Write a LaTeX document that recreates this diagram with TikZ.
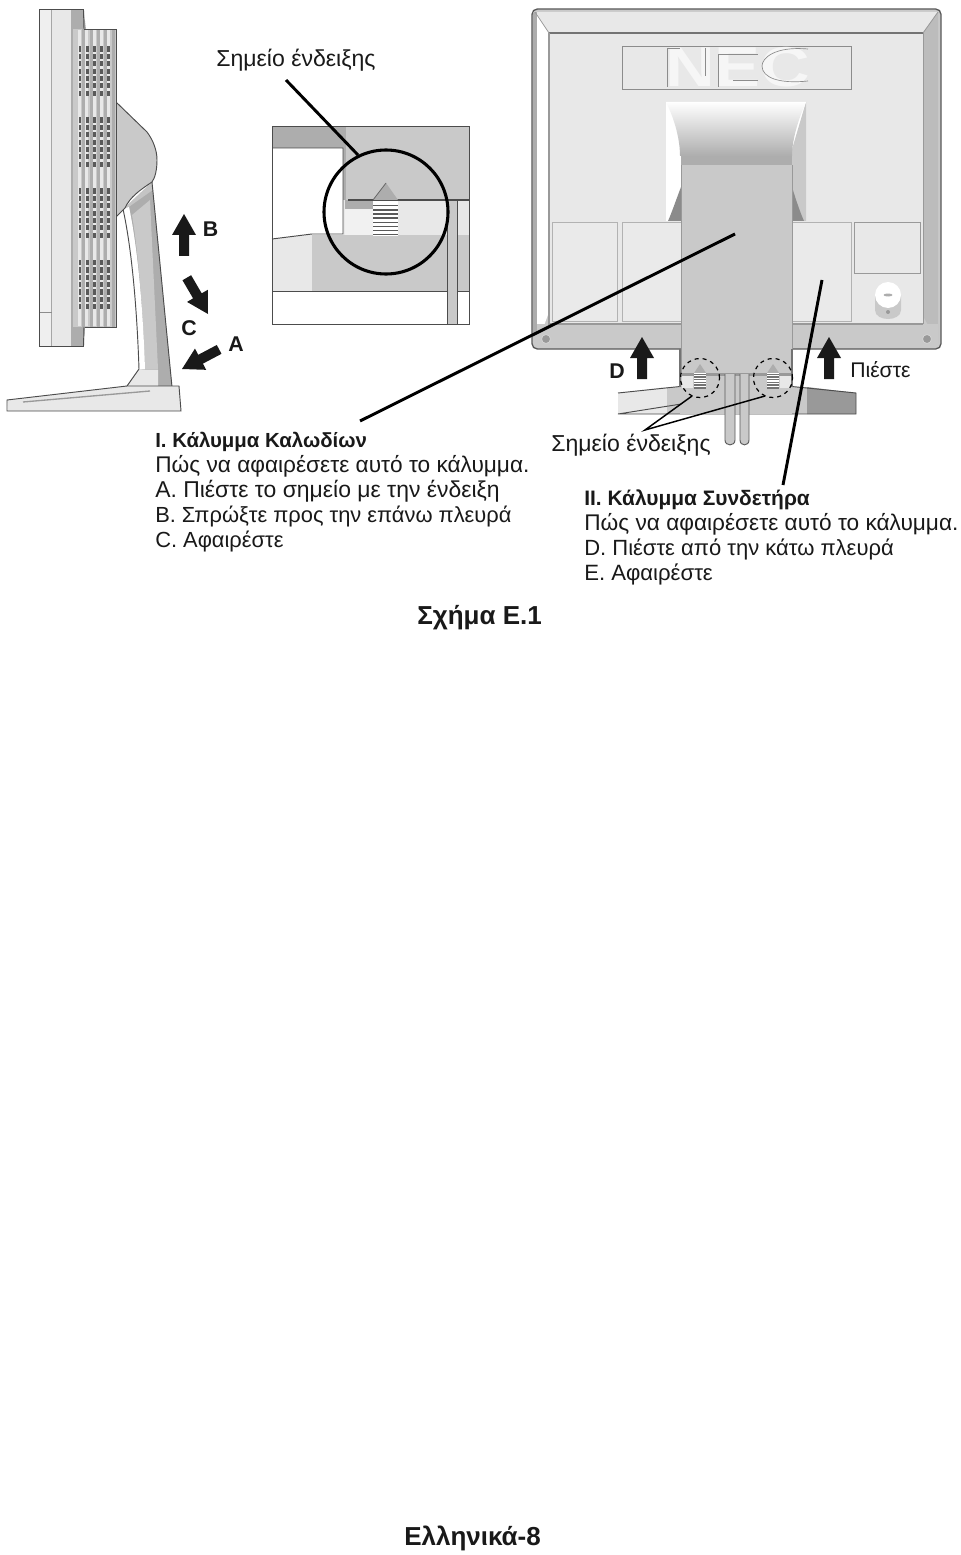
\documentclass[tikz,border=0pt]{standalone}
\usepackage{fontspec}
\setmainfont{Liberation Sans}
\tikzset{
  txt/.style={anchor=west,inner sep=0pt,font=\fontsize{17}{18}\selectfont,text=black!90},
  btxt/.style={txt,font=\fontsize{15.3}{18}\selectfont\bfseries},
  fs/.style={font=\fontsize{#1}{18}\selectfont},
  letter/.style={anchor=center,inner sep=0pt,font=\fontsize{16}{18}\selectfont\bfseries,text=black!90},
  outl/.style={draw=black!70,line width=0.7pt},
  thin outl/.style={draw=black!35,line width=0.6pt},
  leader/.style={draw=black,line width=2.2pt},
  leader2/.style={draw=black,line width=1.1pt},
  pics/blockarrow/.style={code={\fill[black!90] (0,0)--(12,21)--(5,21)--(5,42)--(-5,42)--(-5,21)--(-12,21)--cycle;}}
}
\definecolor{gA}{gray}{0.91}
\definecolor{gB}{gray}{0.79}
\definecolor{gC}{gray}{0.68}
\definecolor{gD}{gray}{0.60}
\begin{document}
\begin{tikzpicture}[x=0.75pt,y=-0.75pt]
\useasboundingbox (0,0) rectangle (960,1555);
\fill[white] (0,0) rectangle (960,1555);

% ---------- left monitor, side view
% stand body
\fill[gB!80!gC] (123,209) .. controls (132,250) and (137,310) .. (139,369) -- (127,386) -- (172,386) -- (152,182) -- cycle;
\fill[gC] (129,207) .. controls (138,250) and (143,310) .. (145,369) -- (158,369) -- (158,386) -- (172,386) -- (153,190) -- cycle;
\fill[gB] (132,215) .. controls (138,250) and (143,310) .. (145,369) -- (158,369) -- (150,200) -- cycle;
\fill[white] (123,209) .. controls (132,250) and (137,310) .. (139,369) -- (145,369) .. controls (143,310) and (138,250) .. (129,207) -- cycle;
\fill[gA] (145,370) -- (158,370) -- (158,386) -- (128,386) -- (139,369) -- cycle;
\draw[outl] (152,182) -- (172,387);
\draw[outl] (123,209) .. controls (132,250) and (137,310) .. (139,369) -- (127,386);
% foot
\fill[gA] (7,400) -- (8,411) -- (181,411) -- (179,386) -- (127,386) -- (7,400) -- cycle;
\draw[outl] (7,400) -- (127,386) -- (179,386) -- (181,411) -- (7,411) -- cycle;
\draw[gD,line width=1pt] (23,402) -- (150,391);
% neck bulge
\fill[gB,draw=black!70,line width=0.7pt] (116,102) -- (147,132) .. controls (153,140) and (157,150) .. (157,160) .. controls (157,170) and (155,178) .. (152,182) .. controls (140,190) and (130,197) .. (125,208) -- (116,217) -- cycle;
% back body
\fill[gB] (72,29) rectangle (116,327);
\foreach \sx in {83,90.5,98,105,112.5} {\fill[gC] (\sx-0.8,29) rectangle (\sx+2.2,327);}
\foreach \sx in {79,86.5,94,101,108.3} {\fill[gA] (\sx-1.5,30) rectangle (\sx+1.5,326);}
\draw[outl] (84,29) -- (116,29) -- (116,327) -- (84,327);
\foreach \gy in {46.5,117.5,188.5,260} {
  \foreach \r in {0,...,6} {
    \foreach \vx in {80,87.3,94.7,101.7,108.7} {
      \fill[black!65] (\vx-1.4,\gy+\r*7.35) rectangle (\vx+1.4,\gy+\r*7.35+5.2);
    }
  }
}
\fill[gC] (72,9.5) -- (83.5,9.5) -- (86,29) -- (72,29) -- cycle;
\fill[gC] (72,327) -- (85,327) -- (83.5,346.5) -- (72,346.5) -- cycle;
\fill[gA] (39.5,9.5) rectangle (72,346.5);
\fill[gA!70] (39.5,9.5) rectangle (51,346.5);
\draw[black!35,line width=0.6pt] (51.5,9.5) -- (51.5,346.5);
\draw[black!45,line width=0.6pt] (39.5,312) -- (51.5,312);
\draw[gC,line width=0.9pt] (72,9.5) -- (72,346.5);
\draw[outl] (84,29) -- (83.5,9.5) -- (39.5,9.5) -- (39.5,346.5) -- (83.5,346.5) -- (84,327);

% block arrows, left
\pic at (184,214) {blockarrow};
\pic[rotate=210.3] at (208,314) {blockarrow};
\pic[rotate=117.8] at (182,369) {blockarrow};
\node[letter] (labB) at (210.5,229) {B};
\node[letter] (labC) at (189,328) {C};
\node[letter] (labA) at (236,344.5) {A};

% ---------- detail square
\fill[white] (272,126) rectangle (469,324);
\fill[gC] (272,126) rectangle (346,148);
\fill[gB] (346,126) rectangle (469,200);
\fill[gC] (343,126) rectangle (346,234);
\fill[gA] (343,200) rectangle (469,235);
\fill[gC] (345,200) rectangle (373,209);
\fill[gA!60] (345,209) rectangle (373,235);
\fill[gA] (272,239) -- (312,234.5) -- (312,291) -- (272,291) -- cycle;
\fill[gB] (312,235) rectangle (469,291);
\fill[gB] (447,200) rectangle (457,324);
\draw[outl] (272,148) -- (343,148) -- (343,234) -- (312,234) -- (272,239);
\draw[outl] (272,291) -- (447,291) (457,291) -- (469,291);
\draw[black!70,line width=1pt] (348,200) -- (469,200);
\draw[outl] (447,200) -- (447,324) (457,200) -- (457,324);
\fill[gC] (386,183) -- (398,200) -- (373,200) -- cycle;
\draw[black!60,line width=0.6pt] (373,200) -- (386,183);
\fill[white] (373,201) rectangle (398,236);
\foreach \k in {0,...,7} {\fill[black!65] (373,205+\k*4.15) rectangle (398,206.4+\k*4.15);}
\draw[outl] (272,126) rectangle (469,324);
\node[draw=black,line width=2.3pt,circle,minimum size=124pt*0.75,inner sep=0pt] (detail) at (386,212) {};

% ---------- right monitor, rear view
% stand base
\fill[gA] (618,393) -- (667,387) -- (667,414) -- (618,414) -- cycle;
\fill[gB] (667,387) rectangle (807,414);
\fill[gD] (807,387) -- (856,393) -- (856,414) -- (807,414) -- cycle;
\draw[outl] (618,393) -- (680,386.5) (792,386.5) -- (856,393) -- (856,414) -- (618,414) -- cycle;
% housing
\filldraw[fill=gB,draw=black!65,line width=1pt,rounded corners=4pt] (532,9) rectangle (941,349);
\fill[gA] (535,12) -- (938,12) -- (923,33) -- (549,33) -- cycle;
\fill[white] (537,14) -- (549,33) -- (549,312) -- (537,345) -- cycle;
\fill[gC!75!gA] (938,12) -- (938,343) -- (923,316) -- (923,33) -- cycle;
\fill[gB] (535,324) -- (938,324) -- (938,346) -- (535,346) -- cycle;
\fill[gC] (533,12) rectangle (537,335);
\fill[gA] (549,33) rectangle (923,324);
\draw[black!55,line width=1.2pt] (549,33) -- (923,33);
\draw[black!40,line width=0.8pt] (549,33) -- (549,324) -- (923,324);
\draw[black!40,line width=0.6pt] (923,33) -- (923,324);
\draw[black!40,line width=0.6pt] (535,12) -- (549,33) (938,12) -- (923,33);
% NEC plate
\draw[thin outl,draw=black!45] (622,46) rectangle (851,89);
\node[inner sep=0pt,anchor=center,text=gray!7!white,xscale=1.32,yscale=1.08,font=\fontsize{39}{39}\selectfont\bfseries] (nec) at (737.5,67.5) {NEC};
\draw[black!45,line width=0.5pt] (667,87) -- (667,48) -- (680,48);
\draw[black!45,line width=0.5pt] (705,76) -- (705,48);
\draw[black!45,line width=0.5pt] (718,87) -- (718,54) -- (758,54);
\draw[black!45,line width=0.5pt] (733,80) -- (758,80);
\draw[black!45,line width=0.5pt] (808,49) .. controls (775,46) and (762,58) .. (762,66) .. controls (762,78) and (780,84) .. (808,81);
% panels
\foreach \xa/\xb in {552/617,622/681,792/851} {\filldraw[fill=gA!92!white,draw=black!30,line width=0.6pt] (\xa,222) rectangle (\xb,321);}
\filldraw[fill=gA,draw=black!40,line width=0.6pt] (854,222) rectangle (920,273);
% neck
\fill[white] (666,102) rectangle (806,221);
\fill[gB] (806,102) -- (806,221) -- (790,221) -- (790,156) -- cycle;
\fill[gC!80!black] (804,221) .. controls (800,212) and (796,200) .. (792,187) -- (792,221) -- cycle;
\fill[gC!80!black] (668,221) .. controls (672,212) and (676,200) .. (681,187) -- (681,221) -- cycle;
\shade[top color=white,middle color=gA,bottom color=gC] (666,102) -- (806,102) .. controls (798,120) and (792,140) .. (792,156) -- (680,156) .. controls (680,140) and (675,120) .. (666,102) -- cycle;
\fill[gC] (681,156) rectangle (792,165);
% knob
\fill[gB] (875,295) -- (901,295) -- (901,310) .. controls (901,322) and (875,322) .. (875,310) -- cycle;
\fill[white] (888,295) ellipse [x radius=13,y radius=13];
\fill[gC] (888,295) ellipse [x radius=4.5,y radius=1.5];
\fill[gD] (888,312) circle [radius=2];
% screws
\filldraw[fill=gD,draw=gB!80!white,line width=0.6pt] (546,339) circle [radius=4.5];
\filldraw[fill=gD,draw=gB!80!white,line width=0.6pt] (927,339) circle [radius=4.5];
% area under cover
\fill[white] (680,349) rectangle (792,387);
\fill[gB] (680,373) rectangle (792,414);
\fill[gA] (682,376) rectangle (693,388);
\fill[gA] (780,376) rectangle (791,388);
\fill[gD] (682,373) rectangle (792,375.5);
% cables
\foreach \ca/\cb in {725/735,740/749} {
  \filldraw[fill=gB,draw=black!65,line width=0.7pt] (\ca,373) -- (\ca,440) .. controls (\ca,446.5) and (\cb,446.5) .. (\cb,440) -- (\cb,373);
}
% cover
\fill[gB] (681,165) rectangle (792,373);
\draw[black!40,line width=0.5pt] (681,165) -- (681,373) -- (792,373) -- (792,165);
\draw[black!55,line width=0.8pt] (680,349) -- (680,387) (792,349) -- (792,387);
% hatched markers
\foreach \mx in {700,773} {
  \fill[gC] (\mx,364) -- (\mx+6,373) -- (\mx-6,373) -- cycle;
  \fill[white] (\mx-6,373) rectangle (\mx+6,389);
  \foreach \k in {0,...,5} {\fill[black!55] (\mx-6,373.5+\k*2.7) rectangle (\mx+6,375+\k*2.7);}
}
\node[draw=black,dashed,line width=0.9pt,circle,minimum size=29.25pt,inner sep=0pt] (markL) at (700,378) {};
\node[draw=black,dashed,line width=0.9pt,circle,minimum size=29.25pt,inner sep=0pt] (markR) at (773,378) {};
% block arrows, right
\pic at (642,337) {blockarrow};
\pic at (829,337) {blockarrow};
\node[letter] (labD) at (617,371) {D};
\node[txt,fs=15.9] (press) at (850,370) {Πιέστε};

% ---------- labels
\node[txt,fs=17.3] (lab1) at (216,60.5) {Σημείο ένδειξης};
\node[txt,fs=17.3] (lab2) at (551,445.5) {Σημείο ένδειξης};

\node[btxt] (t10) at (155,441.5) {I. Κάλυμμα Καλωδίων};
\node[txt] (t11) at (155,466.5) {Πώς να αφαιρέσετε αυτό το κάλυμμα.};
\node[txt,fs=17.2] (t12) at (155,491.5) {A. Πιέστε το σημείο με την ένδειξη};
\node[txt,fs=16.4] (t13) at (155,516.5) {B. Σπρώξτε προς την επάνω πλευρά};
\node[txt,fs=16.4] (t14) at (155,541.5) {C. Αφαιρέστε};

\node[btxt,fs=15.7,font=\fontsize{15.7}{18}\selectfont\bfseries] (t20) at (584,499.5) {II. Κάλυμμα Συνδετήρα};
\node[txt] (t21) at (584,524.5) {Πώς να αφαιρέσετε αυτό το κάλυμμα.};
\node[txt,fs=16.5] (t22) at (584,549.5) {D. Πιέστε από την κάτω πλευρά};
\node[txt,fs=16.6] (t23) at (584,574.5) {E. Αφαιρέστε};

\node[btxt,font=\fontsize{19.5}{22}\selectfont\bfseries] (fig) at (417,618) {Σχήμα E.1};
\node[btxt,font=\fontsize{19.5}{22}\selectfont\bfseries] (page) at (404,1538.5) {Ελληνικά-8};

% ---------- leaders
\coordinate (a1) at (286,80);
\coordinate (a2) at (358,155);
\coordinate (b1) at (360,421);
\coordinate (b2) at (735,234);
\coordinate (c1) at (783,485);
\coordinate (c2) at (822,280);
\coordinate (d0) at (645,430);
\coordinate (d1) at (692,396);
\coordinate (d2) at (765,396);
\draw[leader] (a1) -- (a2);
\draw[leader] (b1) -- (b2);
\draw[leader] (c1) -- (c2);
\draw[leader2] (d1) -- (d0) -- (d2);
\end{tikzpicture}
\end{document}
